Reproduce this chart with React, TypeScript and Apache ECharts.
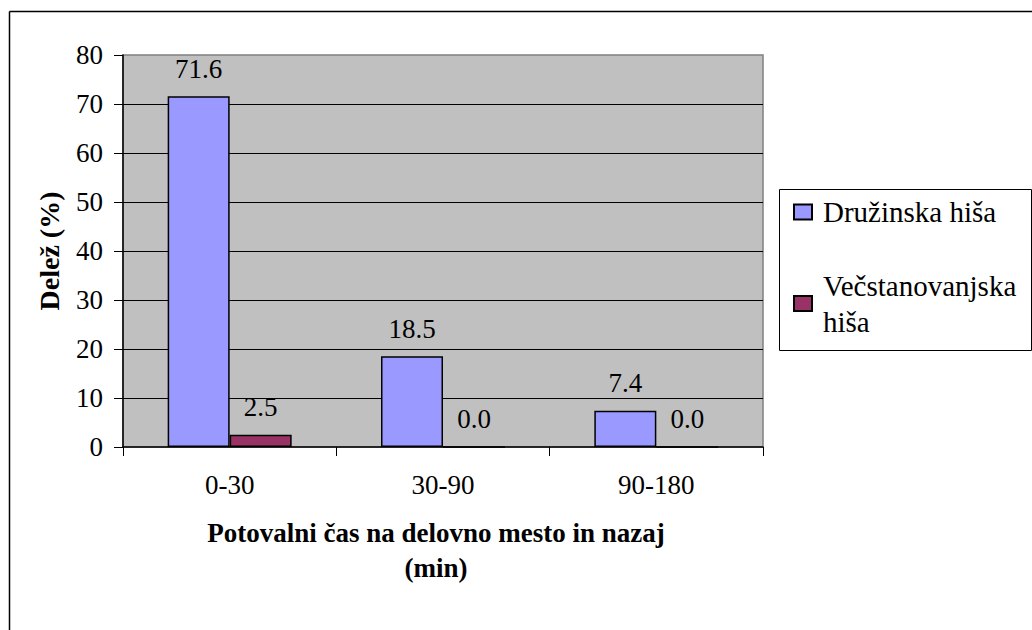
import React, { useEffect, useRef } from "react";
import * as echarts from "echarts";

const categories = ["0-30", "30-90", "90-180"];
const seriesNames = ["Družinska hiša", "Večstanovanjska hiša"];
const druzinska = [71.6, 18.5, 7.4];
const vecstanovanjska = [2.5, 0.0, 0.0];
const yTicks = { min: 0, max: 80, interval: 10 };

const FONT = "Liberation Serif, Times New Roman, serif";

export default function App() {
  const ref = useRef<HTMLDivElement>(null);
  useEffect(() => {
    document.body.style.margin = "0";
    const chart = echarts.init(ref.current!, null, { renderer: "svg" });
    const labelCfg = {
      show: true,
      position: "top",
      distance: 14,
      color: "#000",
      fontFamily: FONT,
      fontSize: 27,
      formatter: (p: any) => Number(p.value).toFixed(1),
    };
    const legendText = {
      fontFamily: FONT,
      fontSize: 29,
      lineHeight: 36,
      height: 36,
      color: "#000",
      padding: [0, 0, 0, 6],
    };
    chart.setOption({
      animation: false,
      backgroundColor: "#fff",
      textStyle: { fontFamily: FONT },
      grid: {
        left: 123,
        top: 55,
        width: 640,
        height: 392,
        show: true,
        backgroundColor: "#c0c0c0",
        borderColor: "#808080",
        borderWidth: 1.5,
      },
      graphic: [
        {
          type: "line",
          shape: { x1: 9.5, y1: 11.5, x2: 1032, y2: 11.5 },
          style: { stroke: "#000", lineWidth: 1.5 },
        },
        {
          type: "line",
          shape: { x1: 9.5, y1: 11.5, x2: 9.5, y2: 630 },
          style: { stroke: "#000", lineWidth: 1.5 },
        },
        {
          type: "rect",
          shape: { x: 779.5, y: 189.5, width: 252, height: 161 },
          style: { fill: "#fff", stroke: "#000", lineWidth: 1 },
          z: 0,
        },
      ],
      legend: [
        {
          data: [seriesNames[0]],
          orient: "vertical",
          left: 788,
          top: 189,
          itemWidth: 18,
          itemHeight: 15,
          icon: "rect",
          z: 5,
          textStyle: legendText,
        },
        {
          data: [seriesNames[1]],
          orient: "vertical",
          left: 788,
          top: 266,
          itemWidth: 18,
          itemHeight: 15,
          icon: "rect",
          z: 5,
          formatter: () => "Večstanovanjska\nhiša",
          textStyle: legendText,
        },
      ],
      xAxis: {
        type: "category",
        data: categories,
        axisLine: { lineStyle: { color: "#000", width: 1.5 } },
        axisTick: { show: true, length: 9, lineStyle: { color: "#000" } },
        axisLabel: { color: "#000", fontFamily: FONT, fontSize: 27, margin: 24 },
        name: "Potovalni čas na delovno mesto in nazaj\n(min)",
        nameLocation: "middle",
        nameGap: 68,
        nameTextStyle: {
          color: "#000",
          fontFamily: FONT,
          fontSize: 27,
          fontWeight: "bold",
          lineHeight: 35,
          padding: [0, 14, 0, 0],
        },
      },
      yAxis: {
        type: "value",
        min: yTicks.min,
        max: yTicks.max,
        interval: yTicks.interval,
        axisLine: { show: true, lineStyle: { color: "#000", width: 1.5 } },
        axisTick: { show: true, length: 9, lineStyle: { color: "#000" } },
        axisLabel: { color: "#000", fontFamily: FONT, fontSize: 27, margin: 20 },
        splitLine: {
          show: true,
          showMinLine: false,
          showMaxLine: false,
          lineStyle: { color: "#000", width: 1 },
        },
        name: "Delež (%)",
        nameLocation: "middle",
        nameRotate: 90,
        nameGap: 60,
        nameTextStyle: { color: "#000", fontFamily: FONT, fontSize: 28, fontWeight: "bold" },
      },
      series: [
        {
          name: seriesNames[0],
          type: "bar",
          data: druzinska,
          barWidth: 62,
          barGap: "0%",
          itemStyle: { color: "#9999ff", borderColor: "#000", borderWidth: 1.5 },
          label: labelCfg,
        },
        {
          name: seriesNames[1],
          type: "bar",
          data: vecstanovanjska,
          barWidth: 62,
          barGap: "0%",
          itemStyle: { color: "#993366", borderColor: "#000", borderWidth: 1.5 },
          label: labelCfg,
        },
      ],
    });
    return () => chart.dispose();
  }, []);
  return <div ref={ref} style={{ width: 1032, height: 630 }} />;
}
